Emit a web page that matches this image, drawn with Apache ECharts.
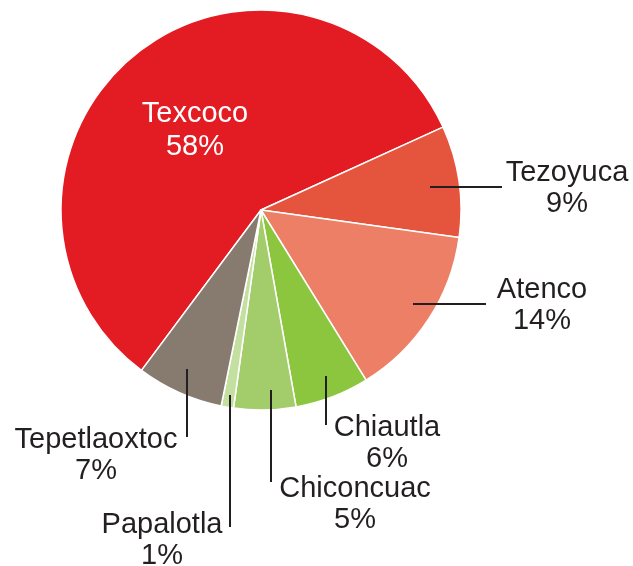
<!DOCTYPE html>
<html>
<head>
<meta charset="utf-8">
<script src="https://cdn.jsdelivr.net/npm/echarts@6/dist/echarts.min.js"></script>
<style>
html,body{margin:0;padding:0;background:#fff;}
#chart{width:633px;height:566px;}
</style>
</head>
<body>
<div id="chart"></div>
<script>
// Data
const categories = ['Texcoco', 'Tezoyuca', 'Atenco', 'Chiautla', 'Chiconcuac', 'Papalotla', 'Tepetlaoxtoc'];
const shares = [58, 9, 14, 6, 5, 1, 7];
const colors = ['#e31b23', '#e5553d', '#ec7f65', '#8cc63e', '#a3cd6a', '#c4e0a0', '#877b70'];

// Label placement (layout only): label centre and leader line ends
const labelPos = [
  { x: 195, y: 130, line: null },
  { x: 567, y: 188, line: [[430, 187], [502, 187]] },
  { x: 542, y: 305, line: [[413, 304], [486, 304]] },
  { x: 387, y: 443, line: [[326, 376], [326, 425]] },
  { x: 355, y: 504, line: [[271, 390], [271, 482]] },
  { x: 162, y: 540, line: [[230, 395], [230, 527]] },
  { x: 96,  y: 455, line: [[187, 369], [187, 437]] }
];

const chart = echarts.init(document.getElementById('chart'), null, { renderer: 'canvas' });

const seriesData = categories.map((name, i) => {
  const item = { name: name, value: shares[i], itemStyle: { color: colors[i] } };
  if (i === 0) {
    item.label = { position: 'inside', color: '#ffffff', lineHeight: 33 };
  }
  return item;
});

const leaderLines = labelPos.filter(p => p.line).map(p => ({
  type: 'line',
  z: 100,
  shape: { x1: p.line[0][0], y1: p.line[0][1], x2: p.line[1][0], y2: p.line[1][1] },
  style: { stroke: '#231f20', lineWidth: 2 }
}));

chart.setOption({
  animation: false,
  backgroundColor: '#ffffff',
  graphic: { elements: leaderLines },
  series: [{
    type: 'pie',
    center: [261, 210],
    radius: [0, 200],
    startAngle: 233.3,
    clockwise: true,
    avoidLabelOverlap: false,
    itemStyle: { borderColor: '#ffffff', borderWidth: 1.5 },
    label: {
      show: true,
      position: 'outside',
      formatter: '{b}\n{c}%',
      fontFamily: '"Liberation Sans", Arial, sans-serif',
      fontSize: 29,
      lineHeight: 31,
      color: '#231f20',
      align: 'center'
    },
    labelLine: { show: false },
    labelLayout: function (params) {
      const p = labelPos[params.dataIndex];
      return { x: p.x, y: p.y, align: 'center', verticalAlign: 'middle' };
    },
    emphasis: { disabled: true },
    data: seriesData
  }]
});
</script>
</body>
</html>
